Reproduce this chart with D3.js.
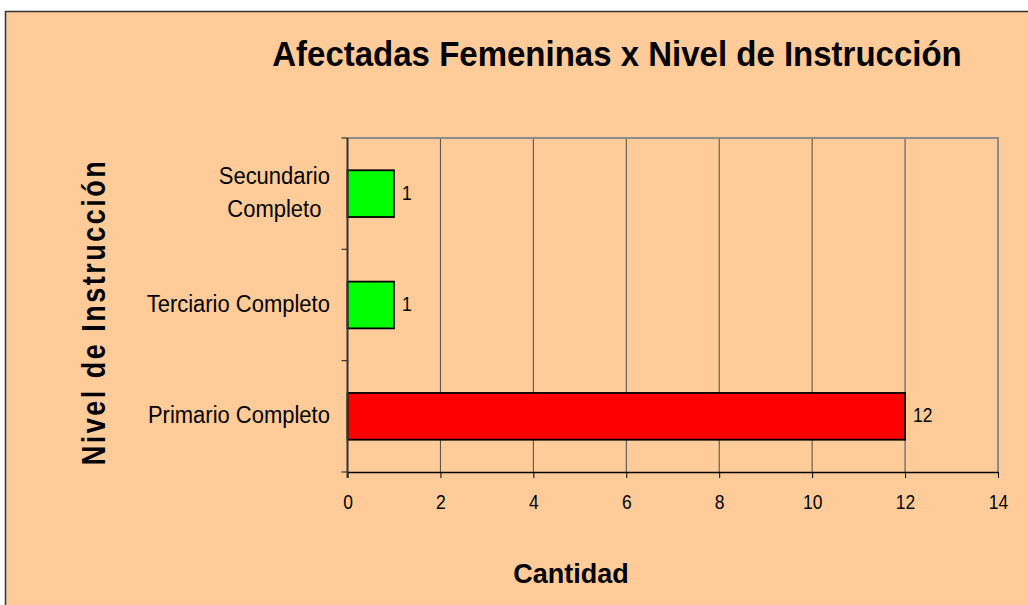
<!DOCTYPE html>
<html>
<head>
<meta charset="utf-8">
<script src="https://cdn.jsdelivr.net/npm/d3@7"></script>
<style>
  html, body { margin: 0; padding: 0; background: #ffffff; }
  svg { display: block; font-family: "Liberation Sans", Arial, sans-serif; }
</style>
</head>
<body>
<svg id="chart" width="1028" height="605"></svg>
<script>
// Categories listed bottom to top, as they appear on the vertical axis
const categories = ["Primario Completo", "Terciario Completo", "Secundario Completo"];
const values = [12, 1, 1];
const barColors = ["#ff0000", "#00ff00", "#00ff00"];
const xTicks = [0, 2, 4, 6, 8, 10, 12, 14];
const titleText = "Afectadas Femeninas x Nivel de Instrucción";
const xTitle = "Cantidad";
const yTitle = "Nivel de Instrucción";

const svg = d3.select("#chart");
const bg = "#ffcc99";

// Outer chart frame
svg.append("rect")
  .attr("x", 5.5).attr("y", 11.5)
  .attr("width", 1100).attr("height", 700)
  .attr("fill", bg).attr("stroke", "#333").attr("stroke-width", 1.5);

const plot = { left: 347.5, right: 998, top: 138, bottom: 472 };

const x = d3.scaleLinear().domain([0, 14]).range([plot.left, plot.right]);
const y = d3.scaleBand().domain(categories.slice().reverse())
  .range([plot.top, plot.bottom]).paddingInner(0.58).paddingOuter(0.29);
const yBand = d3.scaleBand().domain(categories.slice().reverse())
  .range([plot.top, plot.bottom]).padding(0);

// Vertical grid lines
svg.append("g").selectAll("line")
  .data(xTicks.filter(t => t > 0 && t < 14))
  .join("line")
  .attr("x1", d => x(d)).attr("x2", d => x(d))
  .attr("y1", plot.top).attr("y2", plot.bottom)
  .attr("stroke", "#4a4a4a").attr("stroke-width", 1);

// Plot border: top and right in grey
svg.append("path")
  .attr("d", `M${plot.left},${plot.top}H${plot.right}V${plot.bottom}`)
  .attr("fill", "none").attr("stroke", "#8c8c8c").attr("stroke-width", 2);

// Bars
svg.append("g").selectAll("rect")
  .data(categories.map((c, i) => ({ c, v: values[i], color: barColors[i] })))
  .join("rect")
  .attr("x", x(0))
  .attr("y", d => y(d.c))
  .attr("width", d => x(d.v) - x(0))
  .attr("height", y.bandwidth())
  .attr("fill", d => d.color)
  .attr("stroke", "#000").attr("stroke-width", 1.8);

// Value labels
svg.append("g").selectAll("text")
  .data(categories.map((c, i) => ({ c, v: values[i] })))
  .join("text")
  .attr("transform", d => `translate(${x(d.v) + 8},${y(d.c) + y.bandwidth() / 2 + 6}) scale(1,1.15)`)
  .attr("font-size", 17.5).attr("fill", "#000")
  .text(d => d.v);

// X axis
const xAxis = svg.append("g")
  .attr("transform", `translate(0,${plot.bottom})`)
  .call(d3.axisBottom(x).tickValues(xTicks).tickSize(6).tickSizeOuter(0));
xAxis.select(".domain").attr("stroke", "#000").attr("stroke-width", 1.5);
xAxis.selectAll(".tick line").attr("stroke", "#000");
xAxis.selectAll(".tick text").remove();
xAxis.selectAll(".tick").append("text")
  .attr("transform", "translate(0,37) scale(1,1.15)")
  .attr("text-anchor", "middle")
  .attr("font-size", 17.5).attr("fill", "#000")
  .text(d => d);

// Y axis line and boundary ticks
svg.append("line")
  .attr("x1", plot.left).attr("x2", plot.left)
  .attr("y1", plot.top).attr("y2", plot.bottom + 6)
  .attr("stroke", "#333").attr("stroke-width", 2);
const boundaries = categories.map(c => yBand(c)).concat([plot.bottom]);
svg.append("g").selectAll("line")
  .data(boundaries)
  .join("line")
  .attr("x1", plot.left - 6).attr("x2", plot.left)
  .attr("y1", d => d).attr("y2", d => d)
  .attr("stroke", "#333").attr("stroke-width", 1.2);

// Category labels (wrapped when long)
const wrap = { "Secundario Completo": ["Secundario", "Completo"] };
const labelRight = 330;
categories.forEach(c => {
  const lines = wrap[c] || [c];
  const cy = yBand(c) + yBand.bandwidth() / 2;
  const g = svg.append("g");
  const lh = 33;
  const texts = lines.map((ln, i) =>
    g.append("text")
      .attr("font-size", 22).attr("fill", "#000")
      .attr("text-anchor", "middle")
      .text(ln)
      .datum(cy + 7 + (i - (lines.length - 1) / 2) * lh)
  );
  const maxW = d3.max(texts, t => t.node().getComputedTextLength());
  texts.forEach(t => t.attr("transform", `translate(${labelRight - maxW / 2},${t.datum()}) scale(1,1.1)`));
});

// Titles
svg.append("text")
  .attr("transform", "translate(617,66) scale(1,1.06)")
  .attr("text-anchor", "middle")
  .attr("font-size", 33).attr("font-weight", "bold").attr("fill", "#000")
  .text(titleText);

svg.append("text")
  .attr("transform", "translate(571,583) scale(1,1.04)")
  .attr("text-anchor", "middle")
  .attr("font-size", 27).attr("font-weight", "bold").attr("fill", "#000")
  .text(xTitle);

svg.append("text")
  .attr("transform", "translate(105,312) rotate(-90) scale(1,1.2)")
  .attr("text-anchor", "middle")
  .attr("font-size", 27).attr("font-weight", "bold").attr("fill", "#000")
  .attr("letter-spacing", 2.5)
  .text(yTitle);
</script>
</body>
</html>
